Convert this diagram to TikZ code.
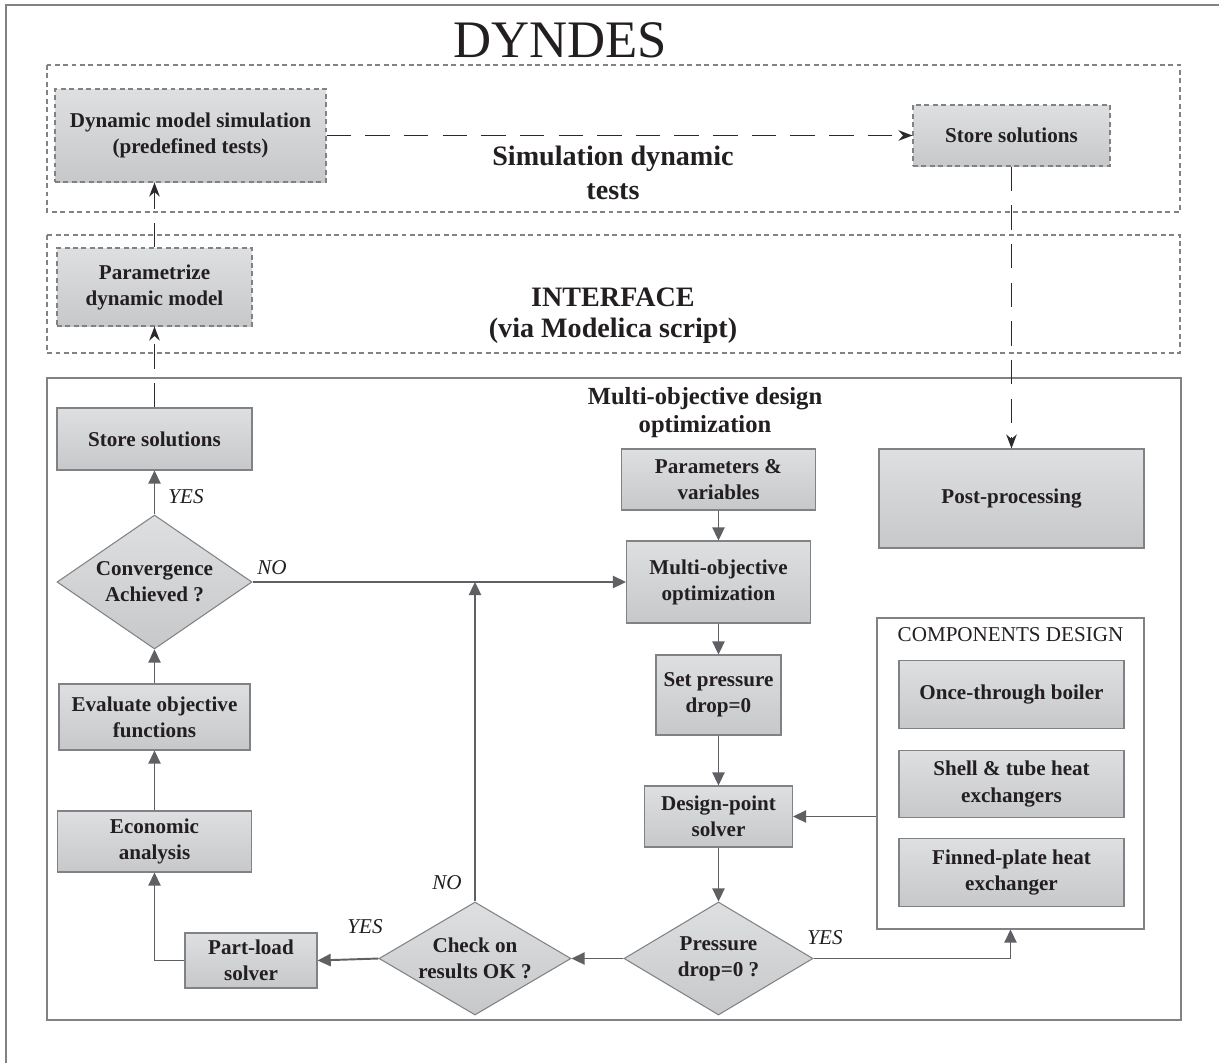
\documentclass[tikz,border=0pt]{standalone}
\usepackage{fontspec}
\setmainfont{Liberation Serif}
\usetikzlibrary{arrows.meta,shapes.geometric}
\definecolor{boxtop}{RGB}{222,223,225}
\definecolor{boxbot}{RGB}{199,200,202}
\definecolor{edge}{RGB}{128,130,133}
\definecolor{flowc}{RGB}{95,96,99}
\definecolor{ink}{RGB}{35,31,32}
\newcommand{\boxfont}{\fontsize{12}{14.8}\selectfont\bfseries}
\tikzset{
  every node/.style={text=ink},
  box/.style={draw=edge, line width=0.6pt, top color=boxtop, bottom color=boxbot, align=center, font=\boxfont, inner sep=0pt},
  dbox/.style={box, dash pattern=on 2.8pt off 2pt},
  decision/.style={box, diamond},
  frame/.style={draw=edge, line width=0.6pt},
  dframe/.style={frame, dash pattern=on 2.8pt off 2pt},
  flow/.style={draw=flowc, line width=1.1pt, -{Triangle[length=7.5pt,width=7pt]}},
  link/.style={draw=ink!90!gray, line width=0.9pt, dash pattern=on 14pt off 8pt, -{Stealth[length=8pt,width=6pt]}},
  answer/.style={font=\fontsize{12}{14}\selectfont\itshape},
}

\begin{document}
\begin{tikzpicture}[x=0.2mm, y=-0.2mm]
\useasboundingbox (0,0) rectangle (1219,1063);
% frames
\draw[frame, line width=0.9pt] (6,1063) -- (6,5) -- (1219,5);
\draw[dframe] (47,65) rectangle (1180,212);
\draw[dframe] (47,235) rectangle (1180,353);
\draw[frame] (47,378) rectangle (1181,1020);
\node (title) at (560,40) {\fontsize{30}{30}\selectfont DYNDES};
\node[font=\fontsize{16}{19.5}\selectfont\bfseries, align=center] (simtxt) at (613,173) {Simulation dynamic\\tests};
\node[font=\fontsize{16}{17.7}\selectfont\bfseries, align=center] (intftxt) at (613,316) {INTERFACE\\(via Modelica script)};
\node[font=\fontsize{14}{16}\selectfont\bfseries, align=center] (mootxt) at (705,413) {Multi-objective design\\optimization};

% dynamic tests and interface
\node[dbox, minimum width=54.2mm, minimum height=18.6mm] (dsim) at (190.5,135.5) {Dynamic model simulation\\(predefined tests)};
\node[dbox, minimum width=39.4mm, minimum height=12.2mm] (stt) at (1011.5,135.5) {Store solutions};
\node[dbox, minimum width=39mm, minimum height=15.6mm] (param) at (154.5,287) {Parametrize\\dynamic model};

% left column
\node[box, minimum width=39mm, minimum height=12.4mm] (sts) at (154.5,439) {Store solutions};
\node[decision, shape aspect=1.5, minimum width=39mm, minimum height=26.8mm] (conv) at (154.5,582) {Convergence\\Achieved ?};
\node[box, minimum width=38.2mm, minimum height=13.2mm] (eval) at (154.5,717) {Evaluate objective\\functions};
\node[box, minimum width=38.8mm, minimum height=12.2mm] (econ) at (154.5,841.5) {Economic\\analysis};
\node[box, minimum width=26.4mm, minimum height=11mm] (pl) at (251,960.5) {Part-load\\solver};
\node[decision, shape aspect=1.7, minimum width=38.4mm, minimum height=22.6mm] (chk) at (475,958.5) {Check on\\results OK ?};

% middle column
\node[box, minimum width=38.8mm, minimum height=12.2mm] (par) at (718.5,479.5) {Parameters \&\\variables};
\node[box, minimum width=36.8mm, minimum height=16.4mm] (moo) at (718.5,582) {Multi-objective\\optimization};
\node[box, minimum width=25mm, minimum height=16mm] (setp) at (718.5,695) {Set pressure\\drop=0};
\node[box, minimum width=29.6mm, minimum height=12.2mm] (dp) at (718.5,816.5) {Design-point\\solver};
\node[decision, shape aspect=1.67, minimum width=37.8mm, minimum height=22.6mm] (pd) at (718.5,958.5) {Pressure\\drop=0 ?};

% right column
\node[box, minimum width=53mm, minimum height=19.8mm] (post) at (1011.5,498.5) {Post-processing};
\node[frame, fill=white, minimum width=53.4mm, minimum height=62.2mm] (comp) at (1010.5,773.5) {};
\node[font=\fontsize{12}{14}\selectfont] (comptxt) at (1010.5,635) {COMPONENTS DESIGN};
\foreach \n/\y/\txt in {boiler/694.5/Once-through boiler, shell/784/Shell \& tube heat\\exchangers, finned/872.5/Finned-plate heat\\exchanger}
  \node[box, minimum width=45mm, minimum height=13.5mm] (\n) at (1011.5,\y) {\txt};

% answers
\node[answer] (yes1) at (186,497) {YES};
\node[answer] (no1) at (272,568) {NO};
\node[answer] (yes2) at (365,927) {YES};
\node[answer] (no2) at (447,883) {NO};
\node[answer] (yes3) at (825,938) {YES};

% flow
\foreach \a/\b in {econ/eval, eval/conv, conv/sts} \draw[flow] (\a.north) -- (\b.south);
\foreach \a/\b in {par/moo, moo/setp, setp/dp, dp/pd} \draw[flow] (\a.south) -- (\b.north);
\draw[flow] (conv.east) -- (moo.west);
\draw[flow] (chk.north) -- (chk.north |- moo.west);
\draw[flow] (pd.west) -- (chk.east);
\draw[flow] (chk.west) -- (pl.east);
\draw[flow] (pl.west) -| (econ.south);
\draw[flow] (pd.east) -| (comp.south);
\draw[flow] (comp.west |- dp.east) -- (dp.east);
% dashed links
\draw[link] (sts.north) -- (param.south);
\draw[link] (param.north) -- (param.north |- dsim.south);
\draw[link] (dsim.east) -- (stt.west);
\draw[link] (stt.south) -- (post.north);
\end{tikzpicture}
\end{document}
